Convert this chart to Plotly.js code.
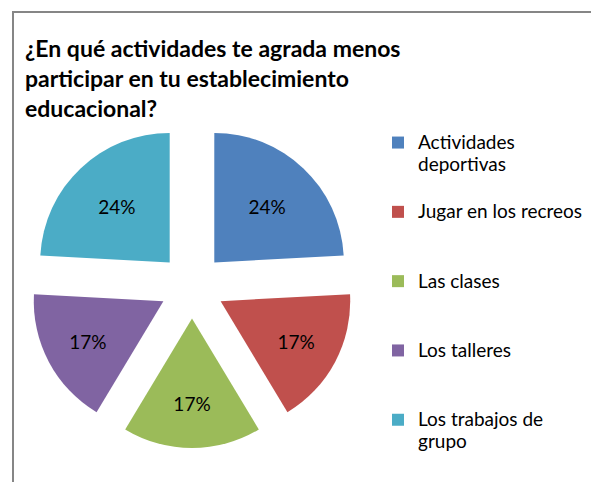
<!DOCTYPE html>
<html>
<head>
<meta charset="utf-8">
<script src="https://cdn.plot.ly/plotly-3.0.1.min.js"></script>
<style>
  html, body { margin: 0; padding: 0; background: #fff; }
  #chart { width: 591px; height: 482px; }
</style>
</head>
<body>
<div id="chart"></div>
<script>
// Data
const categories = [
  "Actividades deportivas",
  "Jugar en los recreos",
  "Las clases",
  "Los talleres",
  "Los trabajos de grupo"
];
// Legend text with line breaks as shown in the reference
const legendLabels = [
  "Actividades<br>deportivas",
  "Jugar en los recreos",
  "Las clases",
  "Los talleres",
  "Los trabajos de<br>grupo"
];
const counts = [7, 5, 5, 5, 7];
const colors = ["#4F81BD", "#C0504D", "#9BBB59", "#8064A2", "#4BACC6"];
const titleText = "¿En qué actividades te agrada menos<br>participar en tu establecimiento<br>educacional?";

// pad every legend entry to three lines so entries are evenly spaced
const paddedLabels = legendLabels.map(function (s) {
  const lines = s.split("<br>");
  while (lines.length < 3) lines.push("&nbsp;");
  return lines.map(function (l) { return '<span style="font-size:19px">' + l + '</span>'; }).join("<br>");
});

const W = 591, H = 482;
const FONT = "Lato, 'Open Sans', sans-serif";

const trace = {
  type: "pie",
  labels: paddedLabels,
  values: counts,
  customdata: categories,
  sort: false,
  direction: "clockwise",
  rotation: 0,
  pull: 0.25,
  marker: { colors: colors, line: { width: 0 } },
  textinfo: "percent",
  texttemplate: "%{percent:.0%}",
  textposition: "inside",
  insidetextorientation: "horizontal",
  textfont: { family: FONT, size: 19, color: "#000" },
  hovertemplate: "%{customdata}: %{value}<extra></extra>",
  domain: { x: [30 / W, 354 / W], y: [1 - 448 / H, 1 - 124 / H] }
};

const layout = {
  width: W,
  height: H,
  margin: { l: 0, r: 0, t: 0, b: 0, autoexpand: false },
  paper_bgcolor: "#fff",
  font: { family: FONT, color: "#000" },
  title: {
    text: titleText,
    font: { family: FONT, size: 23, weight: "bold", color: "#000" },
    xref: "container", yref: "container",
    x: 25 / W, xanchor: "left",
    y: 1 - 57 / H, yanchor: "top",
    automargin: false
  },
  showlegend: true,
  legend: {
    x: 378 / W, xanchor: "left",
    y: 1 - 125 / H, yanchor: "top",
    valign: "top",
    font: { family: FONT, size: 17, color: "#000" },
    bgcolor: "rgba(0,0,0,0)",
    borderwidth: 0,
    traceorder: "normal"
  },
  shapes: [{
    type: "rect", xref: "paper", yref: "paper",
    x0: 13 / W, x1: 1.1, y0: -0.1, y1: 1 - 12 / H,
    line: { color: "#868686", width: 2 },
    fillcolor: "rgba(0,0,0,0)",
    layer: "below"
  }]
};

Plotly.newPlot("chart", [trace], layout, { displayModeBar: false, staticPlot: true });
</script>
</body>
</html>
